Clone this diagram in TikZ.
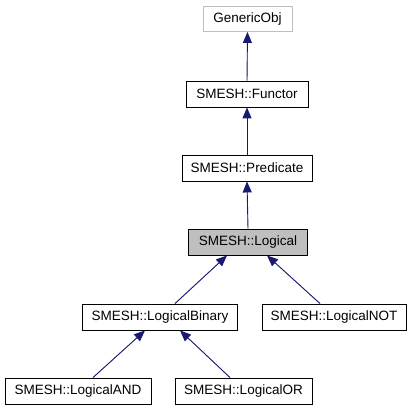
\documentclass[tikz,border=0pt]{standalone}
\usepackage{fontspec}
\setmainfont{Liberation Sans}
\usetikzlibrary{arrows.meta}
\definecolor{edgecol}{HTML}{191970}
\definecolor{greyfill}{HTML}{BFBFBF}
\begin{document}
\begin{tikzpicture}[x=1pt,y=-1pt,
  cls/.style={draw=black,line width=0.9pt,fill=white,minimum height=26pt,inner sep=0pt,
    font=\fontsize{13.5}{15}\selectfont,text=black},
  inh/.style={draw=edgecol,line width=0.9pt,-{Triangle[length=11pt,width=9pt]},fill=edgecol}]
\useasboundingbox (0,0) rectangle (411,411);
\fill[white] (0,0) rectangle (411,411);
\node[cls,draw=greyfill,minimum width=89pt,minimum height=25pt] (gen) at (247.5,19) {GenericObj};
\node[cls,minimum width=122pt] (fun) at (247,94) {SMESH::Functor};
\node[cls,minimum width=130pt] (pred) at (247,168) {SMESH::Predicate};
\node[cls,fill=greyfill,minimum width=119pt] (log) at (248,242) {SMESH::Logical};
\node[cls,minimum width=155pt] (bin) at (160,317) {SMESH::LogicalBinary};
\node[cls,minimum width=144pt] (not) at (334,317) {SMESH::LogicalNOT};
\node[cls,minimum width=146pt] (and) at (78,391) {SMESH::LogicalAND};
\node[cls,minimum width=137pt] (or) at (243.5,391) {SMESH::LogicalOR};
\draw[inh] (fun.north) -- (gen.south);
\draw[inh] (pred.north) -- (fun.south);
\draw[inh] (log.north) -- (pred.south);
\draw[inh] ([xshift=15pt]bin.north) -- ([xshift=-21pt]log.south);
\draw[inh] ([xshift=-14pt]not.north) -- ([xshift=19pt]log.south);
\draw[inh] ([xshift=15pt]and.north) -- ([xshift=-15pt]bin.south);
\draw[inh] ([xshift=-13.5pt]or.north) -- ([xshift=20pt]bin.south);
\end{tikzpicture}
\end{document}
